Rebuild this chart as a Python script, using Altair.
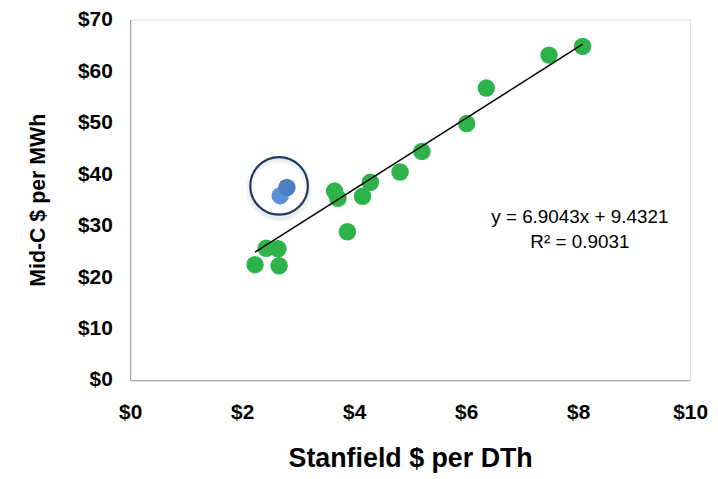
import altair as alt
import pandas as pd

# Green series (Stanfield $/DTh vs Mid-C $/MWh)
green_x = [2.23, 2.43, 2.64, 2.66, 3.65, 3.71, 3.88, 4.15, 4.29, 4.82, 5.21, 6.01, 6.36, 7.48, 8.08]
green_y = [22.4, 25.6, 25.5, 22.2, 36.7, 35.3, 28.8, 35.7, 38.4, 40.4, 44.4, 49.8, 56.7, 63.1, 64.8]

# Highlighted (blue) points
blue_x = [2.68, 2.80]
blue_y = [35.8, 37.4]
blue_color = ["#5B90DA", "#4F7FC2"]

# Highlight circle centre
ring_x = [2.66]
ring_y = [37.7]

# Trendline
slope = 6.9043
intercept = 9.4321
eq_text = ["y = 6.9043x + 9.4321", "R² = 0.9031"]

FONT = "Liberation Sans"

green = pd.DataFrame({"x": green_x, "y": green_y})
blue = pd.DataFrame({"x": blue_x, "y": blue_y, "c": blue_color})
ring = pd.DataFrame({"x": ring_x, "y": ring_y})
xmin, xmax = min(green_x), max(green_x)
trend = pd.DataFrame({"x": [xmin, xmax], "y": [slope * xmin + intercept, slope * xmax + intercept]})
eq = pd.DataFrame({"x": [8.03, 8.03], "y": [31.6, 26.8], "t": eq_text})

xscale = alt.Scale(domain=[0, 10], nice=False, zero=True)
yscale = alt.Scale(domain=[0, 70], nice=False, zero=True)

xaxis = alt.Axis(values=[0, 2, 4, 6, 8, 10], format="$,.0f", grid=False, ticks=False,
                 domainColor="#A6A6A6", domainWidth=1.3, labelFont=FONT, labelFontSize=21,
                 labelFontWeight="bold", labelColor="#000000", labelPadding=22,
                 labelFlush=False, labelOverlap=False,
                 title="Stanfield $ per DTh", titleFont=FONT, titleFontSize=27,
                 titleFontWeight="bold", titleColor="#000000", titlePadding=23)
yaxis = alt.Axis(values=[0, 10, 20, 30, 40, 50, 60, 70], format="$,.0f", grid=False, ticks=False,
                 domainColor="#A6A6A6", domainWidth=1.3, labelFont=FONT, labelFontSize=21,
                 labelFontWeight="bold", labelColor="#000000", labelPadding=18,
                 labelFlush=False, labelOverlap=False,
                 title="Mid-C $ per MWh", titleFont=FONT, titleFontSize=21.5,
                 titleFontWeight="bold", titleColor="#000000", titlePadding=28)

base_x = alt.X("x:Q", scale=xscale, axis=xaxis)
base_y = alt.Y("y:Q", scale=yscale, axis=yaxis)

pts_green = alt.Chart(green).mark_circle(size=310, opacity=1, color="#2DB34A").encode(x=base_x, y=base_y)

line = alt.Chart(trend).mark_line(color="#000000", strokeWidth=1.5).encode(x="x:Q", y="y:Q")

shadow1 = alt.Chart(ring).mark_point(size=3500, filled=False, stroke="#000000", strokeWidth=7,
                                     strokeOpacity=0.05, shape="circle", yOffset=3).encode(x="x:Q", y="y:Q")
shadow2 = alt.Chart(ring).mark_point(size=3500, filled=False, stroke="#000000", strokeWidth=3,
                                     strokeOpacity=0.05, shape="circle", yOffset=3).encode(x="x:Q", y="y:Q")
pts_blue = alt.Chart(blue).mark_circle(size=310, opacity=1).encode(
    x="x:Q", y="y:Q", color=alt.Color("c:N", scale=None))
ring_mark = alt.Chart(ring).mark_point(size=3364, filled=False, stroke="#1F3864", strokeWidth=2.2,
                                       opacity=1, shape="circle").encode(x="x:Q", y="y:Q")

eq_mark = alt.Chart(eq).mark_text(font=FONT, fontSize=19, color="#000000", align="center",
                                  baseline="middle").encode(x="x:Q", y="y:Q", text="t:N")

chart = alt.layer(pts_green, line, shadow1, shadow2, pts_blue, ring_mark, eq_mark).properties(
    width=564, height=363,
    autosize=alt.AutoSizeParams(type="none"),
    padding={"left": 123, "top": 10, "right": 20, "bottom": 98},
).configure_view(stroke=None).configure(background="#FFFFFF")

chart.save("out.html", embed_options={"renderer": "svg", "actions": False})
